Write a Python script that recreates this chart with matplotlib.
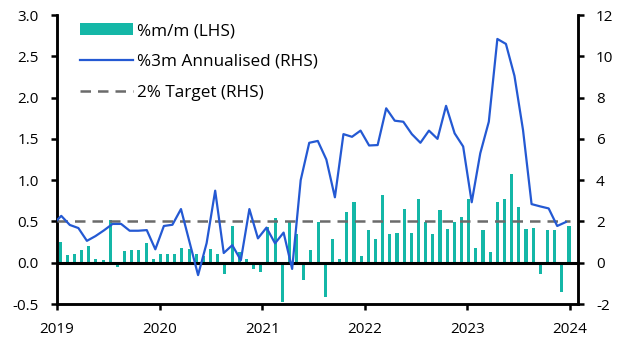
#!/usr/bin/env python3
"""
Monthly price change (bars, LHS) and 3m annualised rate (line, RHS).
"""
import numpy as np
import matplotlib
matplotlib.use("Agg")
import matplotlib.pyplot as plt

# %m/m (LHS) bars (left to right)
mm_values = [
    0.25, 0.09, 0.10, 0.15, 0.20, 0.05, 0.03, 0.52, -0.05, 0.14, 0.16, 0.16,
    0.24, 0.05, 0.11, 0.10, 0.10, 0.18, 0.17, 0.11, 0.08, 0.17, 0.11, -0.14,
    0.45, 0.13, 0.05, -0.08, -0.11, 0.43, 0.54, -0.48, 0.49, 0.35, -0.21, 0.15,
    0.49, -0.42, 0.29, 0.05, 0.62, 0.73, 0.08, 0.40, 0.29, 0.82, 0.35, 0.36,
    0.65, 0.36, 0.77, 0.49, 0.35, 0.64, 0.41, 0.49, 0.55, 0.77, 0.18, 0.40,
    0.13, 0.74, 0.77, 1.07, 0.68, 0.41, 0.42, -0.14, 0.40, 0.40, -0.36, 0.45,
]

# %3m annualised (RHS), monthly Dec 2018 .. Dec 2023
ann_values = [
    1.85,
    2.27, 1.83, 1.68, 1.06, 1.29, 1.57, 1.88, 1.88, 1.55, 1.55, 1.58, 0.65,
    1.78, 1.84, 2.60, 1.00, -0.60, 0.95, 3.49, 0.47, 0.85, 0.12, 2.60, 1.18,
    1.70, 0.94, 1.46, -0.30, 4.00, 5.81, 5.90, 5.00, 3.17, 6.23, 6.10, 6.40,
    5.68, 5.70, 7.48, 6.88, 6.83, 6.23, 5.81, 6.40, 6.00, 7.60, 6.27, 5.63,
    2.93, 5.30, 6.83, 10.84, 10.60, 9.05, 6.43, 2.84, 2.73, 2.63, 1.78, 1.97,
]

target = 2.0
year_ticks = [2019, 2020, 2021, 2022, 2023, 2024]
lhs_ticks = [-0.5, 0.0, 0.5, 1.0, 1.5, 2.0, 2.5, 3.0]
rhs_ticks = [-2, 0, 2, 4, 6, 8, 10, 12]

BAR_COLOR = "#14b7a7"
LINE_COLOR = "#2459d3"
TARGET_COLOR = "#6b6b6b"
FS = 11
LEGEND_FS = 12.3

plt.rcParams["font.family"] = ["Open Sans", "DejaVu Sans"]
plt.rcParams["font.size"] = FS

fig = plt.figure(figsize=(6.29, 3.54), dpi=100)
ax1 = fig.add_axes([0.0906, 0.1412, 0.8284, 0.8164])
ax2 = ax1.twinx()

bar_x = np.linspace(2019.03, 2023.99, len(mm_values))
line_x = 2018 + (np.arange(len(ann_values)) + 11.5) / 12

bars = ax1.bar(bar_x, mm_values, width=0.03, color=BAR_COLOR, linewidth=0,
               zorder=2)
ax1.axhline(0, color="black", linewidth=2.2, zorder=3)

line, = ax2.plot(line_x, ann_values, color=LINE_COLOR, linewidth=1.6,
                 zorder=4)
tgt, = ax2.plot([2019.0, 2024.0], [target, target], color=TARGET_COLOR,
                linewidth=1.8, dashes=(4.2, 2.8), zorder=3)

ax1.set_xlim(2019.0, 2024.078)
ax1.set_ylim(-0.5, 3.0)
ax2.set_ylim(-2, 12)

ax1.set_xticks(year_ticks)
ax1.set_xticklabels([str(y) for y in year_ticks])
ax1.set_yticks(lhs_ticks)
ax1.set_yticklabels([f"{v:.1f}" for v in lhs_ticks])
ax2.set_yticks(rhs_ticks)
ax2.set_yticklabels([str(v) for v in rhs_ticks])

for ax in (ax1, ax2):
    ax.spines["top"].set_visible(False)
    for side in ("left", "right", "bottom"):
        ax.spines[side].set_linewidth(1.8)
    ax.tick_params(direction="out", length=4, width=1.8, colors="black",
                   labelsize=FS, pad=9)
ax1.tick_params(axis="x", pad=9)

ax1.legend([bars, line, tgt],
           ["%m/m (LHS)", "%3m Annualised (RHS)", "2% Target (RHS)"],
           loc="upper left", bbox_to_anchor=(0.044, 0.972), frameon=False,
           borderpad=0, borderaxespad=0,
           handlelength=3.1, handletextpad=0.27, labelspacing=0.87,
           fontsize=LEGEND_FS)
ax1.set_zorder(1)
ax2.set_zorder(2)
ax2.patch.set_visible(False)

fig.savefig("out.png", dpi=100)
